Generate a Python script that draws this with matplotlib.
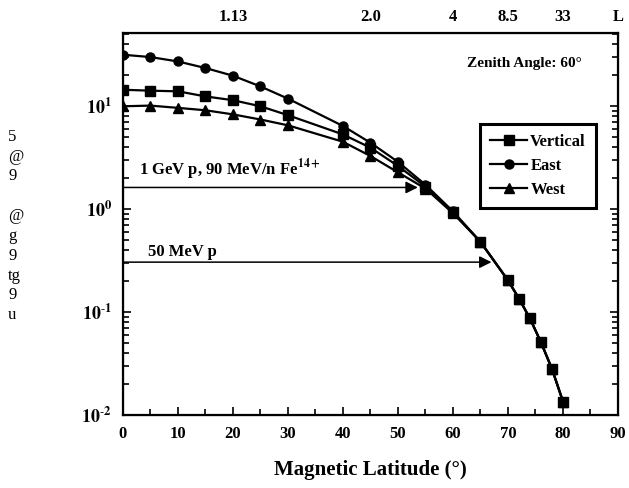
import numpy as np
import matplotlib.pyplot as plt
import matplotlib.ticker as mticker

plt.rcParams['font.family'] = ['Liberation Serif', 'DejaVu Serif']
plt.rcParams['mathtext.fontset'] = 'stix'

# magnetic latitude (deg)
lat = [0, 5, 10, 15, 20, 25, 30, 40, 45, 50, 55, 60, 65, 70, 72, 74, 76, 78, 80]
vertical = [14.4, 14.1, 13.9, 12.4, 11.4, 9.95, 8.15, 5.3, 3.94, 2.62, 1.65, 0.93, 0.48,
            0.203, 0.135, 0.0865, 0.0507, 0.028, 0.0135]
east = [31.5, 29.9, 27.1, 23.4, 19.7, 15.5, 11.8, 6.4, 4.4, 2.87, 1.72, 0.95, 0.48,
        0.203, 0.135, 0.0865, 0.0507, 0.028, 0.0135]
west = [9.95, 10.1, 9.6, 9.1, 8.3, 7.4, 6.5, 4.5, 3.27, 2.27, 1.58, 0.91, 0.48,
        0.203, 0.135, 0.0865, 0.0507, 0.028, 0.0135]

# top axis: L-shell values at given latitudes
L_pos = [20, 45, 60, 70, 80]
L_labels = ['1.13', '2.0', '4', '8.5', '33']

# cutoff arrows: (level, end latitude)
arrow_1gev = (1.62, 53.6)
arrow_50mev = (0.305, 67.0)

fig = plt.figure(figsize=(6.29, 4.88), dpi=100)
ax = fig.add_axes([0.1955, 0.1496, 0.787, 0.7824])

ax.plot(lat, east, color='black', lw=1.6, marker='o', ms=6.5, label='East')
ax.plot(lat, west, color='black', lw=1.6, marker='^', ms=6.5, label='West')
ax.plot(lat, vertical, color='black', lw=1.6, marker='s', ms=6.5, label='Vertical')

ax.set_yscale('log')
ax.set_xlim(0, 90)
ax.set_ylim(0.01, 51)

bold = dict(fontweight='bold', family='Liberation Serif')

ax.set_xticks(np.arange(0, 91, 10))
ax.set_xticks(np.arange(5, 90, 10), minor=True)
ax.set_xticklabels([str(v) for v in range(0, 91, 10)], fontsize=12, **bold)
ax.set_yticks([0.01, 0.1, 1, 10])
ax.set_yticklabels([r'$\mathbf{10^{\text{-}2}}$', r'$\mathbf{10^{\text{-}1}}$',
                    r'$\mathbf{10^{0}}$', r'$\mathbf{10^{1}}$'], fontsize=13)
ax.yaxis.set_minor_locator(mticker.LogLocator(subs=np.arange(2, 10)))
ax.yaxis.set_minor_formatter(mticker.NullFormatter())
ax.tick_params(which='both', direction='in', top=True, right=True, width=1.2)
ax.tick_params(which='major', length=6, pad=8)
ax.tick_params(which='minor', length=4)
for s in ax.spines.values():
    s.set_linewidth(1.6)

ax.set_xlabel('Magnetic Latitude (°)', fontsize=15, labelpad=13, **bold)

# L axis on top
top = ax.twiny()
top.set_xlim(ax.get_xlim())
top.set_xticks(L_pos + [90])
top.set_xticklabels(L_labels + ['L'], fontsize=12, **bold)
top.tick_params(length=0, pad=6)
top.set_xticks([], minor=True)

# arrows
for (yv, xe) in [arrow_1gev, arrow_50mev]:
    ax.annotate('', xy=(xe, yv), xytext=(0, yv),
                arrowprops=dict(arrowstyle='-|>', color='black', lw=1.1,
                                mutation_scale=18, shrinkA=0, shrinkB=0))
ax.text(3.0, 2.4, r'1 GeV p, 90 MeV/n Fe$^{\mathbf{14+}}$', fontsize=12,
        va='center', ha='left', **bold)
ax.text(4.5, 0.38, '50 MeV p', fontsize=12, va='center', ha='left', **bold)

ax.text(83.5, 26, 'Zenith Angle: 60°', fontsize=11, ha='right', va='center', **bold)

h, l = ax.get_legend_handles_labels()
order = [2, 0, 1]
leg = ax.legend([h[i] for i in order], [l[i] for i in order],
                loc='upper left', bbox_to_anchor=(0.705, 0.785),
                prop=dict(family='Liberation Serif', weight='bold', size=12),
                handlelength=2.2, handletextpad=0.2, borderpad=0.6,
                labelspacing=0.5, fancybox=False, edgecolor='black',
                framealpha=1)
leg.get_frame().set_linewidth(2.2)

fig.text(0.013, 0.537, '5\n@\n9\n\n@\ng\n9\ntg\n9\nu', fontsize=12,
         family='Liberation Serif', ha='left', va='center', linespacing=1.32)

fig.savefig('out.png', dpi=100)
